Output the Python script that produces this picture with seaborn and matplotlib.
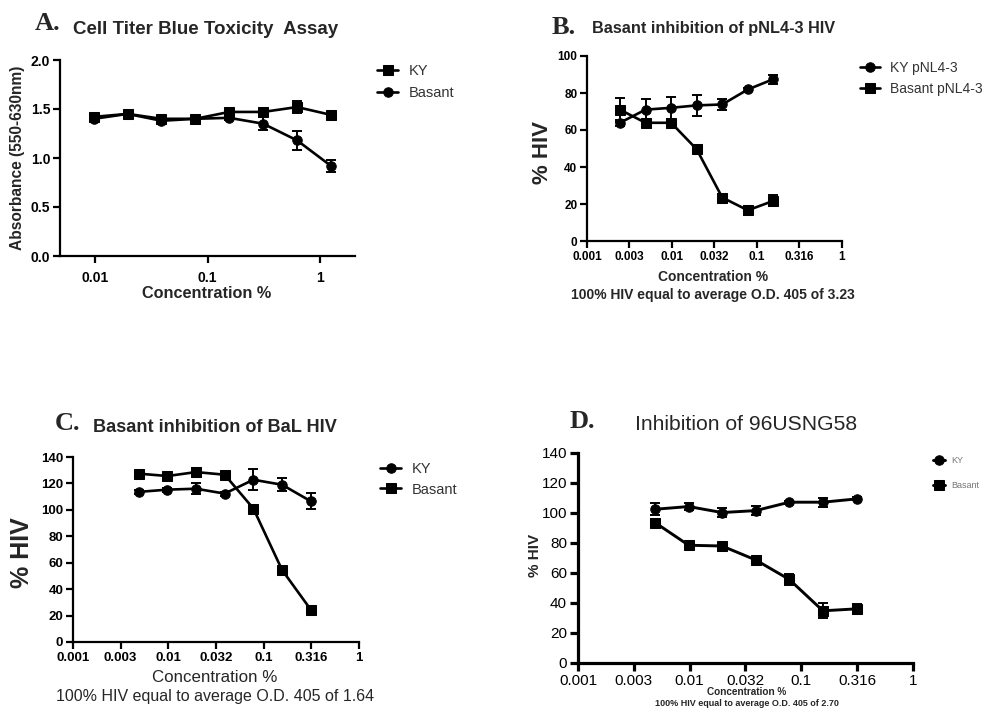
import numpy as np
import pandas as pd
import seaborn as sns
import matplotlib.pyplot as plt

# panel A - cell titer blue toxicity
conc_a = [0.0098, 0.0195, 0.039, 0.078, 0.156, 0.3125, 0.625, 1.25]
ky_a = [1.42, 1.45, 1.40, 1.40, 1.47, 1.47, 1.52, 1.44]
ky_a_err = [0.02, 0.02, 0.03, 0.02, 0.03, 0.03, 0.06, 0.02]
bas_a = [1.40, 1.45, 1.38, 1.40, 1.41, 1.35, 1.18, 0.92]
bas_a_err = [0.02, 0.02, 0.02, 0.02, 0.02, 0.065, 0.10, 0.06]

# panel B - pNL4-3
conc_b = [0.00244, 0.00488, 0.00977, 0.0195, 0.039, 0.078, 0.156]
ky_b = [63.9, 71.0, 72.0, 73.3, 73.8, 81.9, 87.5]
ky_b_err = [1.5, 6.0, 6.0, 5.5, 3.0, 1.0, 2.5]
bas_b = [71.0, 63.9, 63.9, 49.6, 23.5, 16.6, 21.7]
bas_b_err = [6.5, 1.5, 2.0, 1.0, 2.0, 2.5, 3.0]

# panel C - BaL
conc_c = [0.0049, 0.0098, 0.0195, 0.039, 0.078, 0.156, 0.3125]
ky_c = [113.6, 115.3, 116.0, 112.3, 122.8, 119.0, 106.5]
ky_c_err = [1.5, 1.5, 4.0, 1.5, 8.0, 5.0, 6.0]
bas_c = [127.4, 125.6, 128.6, 126.6, 101.0, 54.5, 24.4]
bas_c_err = [1.5, 1.5, 3.0, 1.5, 3.0, 1.5, 3.0]

# panel D - 96USNG58
conc_d = [0.0049, 0.0098, 0.0195, 0.039, 0.078, 0.156, 0.3125]
ky_d = [102.5, 104.3, 100.3, 101.6, 107.2, 107.2, 109.4]
ky_d_err = [4.0, 2.5, 3.0, 3.0, 1.0, 3.0, 1.0]
bas_d = [93.6, 78.5, 78.0, 68.7, 55.7, 34.8, 36.1]
bas_d_err = [2.5, 1.0, 1.0, 1.0, 3.5, 5.0, 3.5]

half_ticks = [0.001, 0.00316, 0.01, 0.0316, 0.1, 0.316, 1]
half_labels = ['0.001', '0.003', '0.01', '0.032', '0.1', '0.316', '1']

sns.set_style('ticks')
plt.rcParams['font.family'] = ['Liberation Sans', 'DejaVu Sans']

W, H = 985, 708
fig = plt.figure(figsize=(W / 100, H / 100), dpi=100)


def box(l, r, t, b):
    return [l / W, 1 - b / H, (r - l) / W, (b - t) / H]


def ftext(x, y, s, **kw):
    kw.setdefault('ha', 'center')
    kw.setdefault('va', 'center')
    fig.text(x / W, 1 - y / H, s, **kw)


def panel(pos, x, s1, e1, m1, lab1, s2, e2, m2, lab2, lw=1.9, ms=6.8):
    ax = fig.add_axes(box(*pos))
    df = pd.DataFrame({'conc': x * 2,
                       'val': s1 + s2,
                       'grp': [lab1] * len(x) + [lab2] * len(x)})
    sns.lineplot(data=df, x='conc', y='val', hue='grp', style='grp',
                 markers={lab1: m1, lab2: m2}, dashes=False,
                 palette={lab1: 'black', lab2: 'black'},
                 lw=lw, markersize=ms, markeredgecolor='black',
                 ax=ax)
    ax.errorbar(x, s1, yerr=e1, fmt='none', ecolor='black', elinewidth=1.4, capsize=3.4, capthick=1.4)
    ax.errorbar(x, s2, yerr=e2, fmt='none', ecolor='black', elinewidth=1.4, capsize=3.4, capthick=1.4)
    ax.set_xscale('log')
    ax.minorticks_off()
    ax.set_xlabel('')
    ax.set_ylabel('')
    sns.despine(ax=ax)
    return ax


def legend(ax, x, y, fs, sp, hl=1.45, color='#333333'):
    leg = ax.legend(loc='upper left', bbox_to_anchor=(x / W, 1 - y / H),
                    bbox_transform=fig.transFigure, frameon=False,
                    borderpad=0, borderaxespad=0, handlelength=hl,
                    handletextpad=0.7, labelspacing=sp, fontsize=fs)
    for t in leg.get_texts():
        t.set_color(color)
    return leg


def style_axes(ax, fs, weight='bold', lw=1.6, tl=5):
    for sp in ['left', 'bottom']:
        ax.spines[sp].set_linewidth(lw)
        ax.spines[sp].set_color('black')
    ax.tick_params(axis='both', direction='out', length=tl, width=lw, colors='black',
                   labelsize=fs, pad=2)
    for lab in ax.get_xticklabels() + ax.get_yticklabels():
        lab.set_fontweight(weight)


# ---- A ----
ax = panel((60, 355, 60, 256), conc_a, ky_a, ky_a_err, 's', 'KY', bas_a, bas_a_err, 'o', 'Basant')
ax.set_xlim(10 ** -2.311, 10 ** 0.311)
ax.set_ylim(0, 2.0)
ax.set_yticks([0.0, 0.5, 1.0, 1.5, 2.0])
ax.set_yticklabels(['0.0', '0.5', '1.0', '1.5', '2.0'])
ax.set_xticks([0.01, 0.1, 1])
ax.set_xticklabels(['0.01', '0.1', '1'])
style_axes(ax, 10)
ax.tick_params(axis='x', pad=6)
legend(ax, 377, 64, 10.5, 0.58)
ftext(35, 24, 'A.', ha='left', family='Liberation Serif', fontweight='bold', fontsize=19)
ftext(73, 30, 'Cell Titer Blue Toxicity  Assay', ha='left', fontweight='bold', fontsize=13.5)
ftext(18, 158, 'Absorbance (550-630nm)', rotation=90, fontweight='bold', fontsize=11.2)
ftext(207, 294, 'Concentration %', fontweight='bold', fontsize=11.7)

# ---- B ----
ax = panel((587, 842, 56, 241), conc_b, ky_b, ky_b_err, 'o', 'KY pNL4-3', bas_b, bas_b_err, 's', 'Basant pNL4-3')
ax.set_xlim(0.001, 1)
ax.set_ylim(0, 100)
ax.set_yticks([0, 20, 40, 60, 80, 100])
ax.set_xticks(half_ticks)
ax.set_xticklabels(half_labels)
style_axes(ax, 8.5)
legend(ax, 860, 61, 10, 0.5)
ftext(552, 27, 'B.', ha='left', family='Liberation Serif', fontweight='bold', fontsize=19)
ftext(592, 28, 'Basant inhibition of pNL4-3 HIV', ha='left', fontweight='bold', fontsize=11.7)
ftext(543, 152, '% HIV', rotation=90, fontweight='bold', fontsize=16)
ftext(713, 277, 'Concentration %', fontweight='bold', fontsize=10)
ftext(713, 295, '100% HIV equal to average O.D. 405 of 3.23', fontweight='bold', fontsize=10)

# ---- C ----
ax = panel((73, 359, 457, 642), conc_c, ky_c, ky_c_err, 'o', 'KY', bas_c, bas_c_err, 's', 'Basant')
ax.set_xlim(0.001, 1)
ax.set_ylim(0, 140)
ax.set_yticks(range(0, 141, 20))
ax.set_xticks(half_ticks)
ax.set_xticklabels(half_labels)
style_axes(ax, 9.5)
legend(ax, 380, 462, 10.5, 0.45)
ftext(55, 423, 'C.', ha='left', family='Liberation Serif', fontweight='bold', fontsize=19)
ftext(93, 428, 'Basant inhibition of BaL HIV', ha='left', fontweight='bold', fontsize=13.1)
ftext(22, 553, '% HIV', rotation=90, fontweight='bold', fontsize=18)
ftext(215, 678, 'Concentration %', fontsize=12.2)
ftext(215, 696, '100% HIV equal to average O.D. 405 of 1.64', fontsize=11.5)

# ---- D ----
ax = panel((578, 913, 453, 663), conc_d, ky_d, ky_d_err, 'o', 'KY', bas_d, bas_d_err, 's', 'Basant',
           lw=2.1, ms=6.8)
ax.set_xlim(0.001, 1)
ax.set_ylim(0, 140)
ax.set_yticks(range(0, 141, 20))
ax.set_xticks(half_ticks)
ax.set_xticklabels(half_labels)
style_axes(ax, 11, weight='normal', lw=2.3, tl=6)
legend(ax, 933, 456, 6.5, 1.8, hl=1.3, color='#777777')
ftext(570, 422, 'D.', ha='left', family='Liberation Serif', fontweight='bold', fontsize=19)
ftext(635, 424, 'Inhibition of 96USNG58', ha='left', fontsize=15.2)
ftext(535, 555, '% HIV', rotation=90, fontweight='bold', fontsize=11)
ftext(747, 692, 'Concentration %', fontweight='bold', fontsize=7.2)
ftext(747, 703, '100% HIV equal to average O.D. 405 of 2.70', fontweight='bold', fontsize=6.5)

fig.savefig('out.png', dpi=100)
